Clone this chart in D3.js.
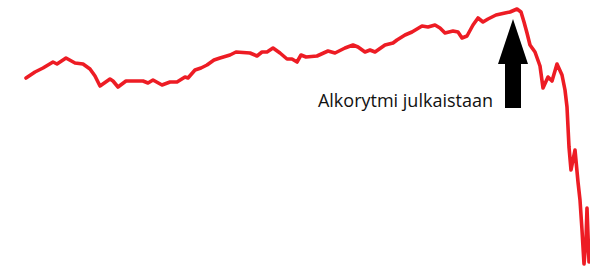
<!DOCTYPE html>
<html>
<head>
<meta charset="utf-8">
<script src="https://cdn.jsdelivr.net/npm/d3@7"></script>
<style>
  body { margin: 0; background: #fff; }
  svg { display: block; }
</style>
</head>
<body>
<div id="chart"></div>
<script>
// trading days since start
var days = [0, 9, 17, 27, 31, 40, 49, 57, 64, 69, 74, 84, 87, 92, 100, 117, 122, 127, 136, 144,
  151, 159, 162, 169, 175, 181, 188, 194, 204, 210, 224, 231, 236, 241, 247, 254, 261, 266, 271,
  275, 280, 291, 302, 309, 319, 327, 332, 339, 344, 349, 359, 367, 371, 379, 386, 396, 402, 409,
  414, 419, 427, 432, 436, 441, 447, 452, 457, 462, 470, 479, 484, 491, 495, 498, 501, 504, 509,
  514, 517, 522, 526, 531, 536, 539, 541, 543, 545, 549, 552, 554, 556, 558, 560, 561, 563];
// index level
var level = [195, 201, 205, 211, 209, 215, 210, 209, 204, 197, 187, 194, 192, 186, 192, 192, 190,
  193, 188, 191, 191, 196, 195, 203, 205, 208, 213, 215, 218, 221, 220, 217, 221, 221, 225, 220,
  214, 214, 211, 218, 216, 217, 222, 220, 225, 228, 226, 221, 223, 221, 228, 230, 233, 238, 241,
  247, 246, 248, 245, 240, 242, 241, 235, 237, 248, 255, 251, 254, 258, 260, 261, 264, 261, 251,
  240, 228, 221, 207, 185, 196, 192, 209, 198, 183, 166, 126, 103, 123, 91, 73, 43, 9, 33, 65, 11];

var annotationText = "Alkorytmi julkaistaan";
var annotationDay = 487;

var width = 590, height = 273;

var x = d3.scaleLinear()
    .domain([0, 563])
    .range([26, 589]);
var y = d3.scaleLinear()
    .domain([0, 273])
    .range([273, 0]);

var svg = d3.select("#chart").append("svg")
    .attr("width", width)
    .attr("height", height);

var line = d3.line()
    .x(function(d, i) { return x(days[i]); })
    .y(function(d) { return y(d); })
    .curve(d3.curveLinear);

svg.append("path")
    .datum(level)
    .attr("d", line)
    .attr("fill", "none")
    .attr("stroke", "#ed1c24")
    .attr("stroke-width", 3.6)
    .attr("stroke-linejoin", "round")
    .attr("stroke-linecap", "round");

// arrow pointing at the peak
var ax = x(annotationDay),
    tipY = 19,
    headY = 64,
    bottomY = 108;
var arrow = [
  [ax, tipY], [ax + 15, headY], [ax + 8, headY], [ax + 8, bottomY],
  [ax - 8, bottomY], [ax - 8, headY], [ax - 15, headY]
];
svg.append("polygon")
    .attr("points", arrow.map(function(p) { return p.join(","); }).join(" "))
    .attr("fill", "#000");

svg.append("text")
    .attr("x", ax - 20)
    .attr("y", 107)
    .attr("text-anchor", "end")
    .attr("font-family", "'Open Sans', 'Noto Sans', sans-serif")
    .attr("font-size", 18)
    .attr("fill", "#111")
    .text(annotationText);
</script>
</body>
</html>
